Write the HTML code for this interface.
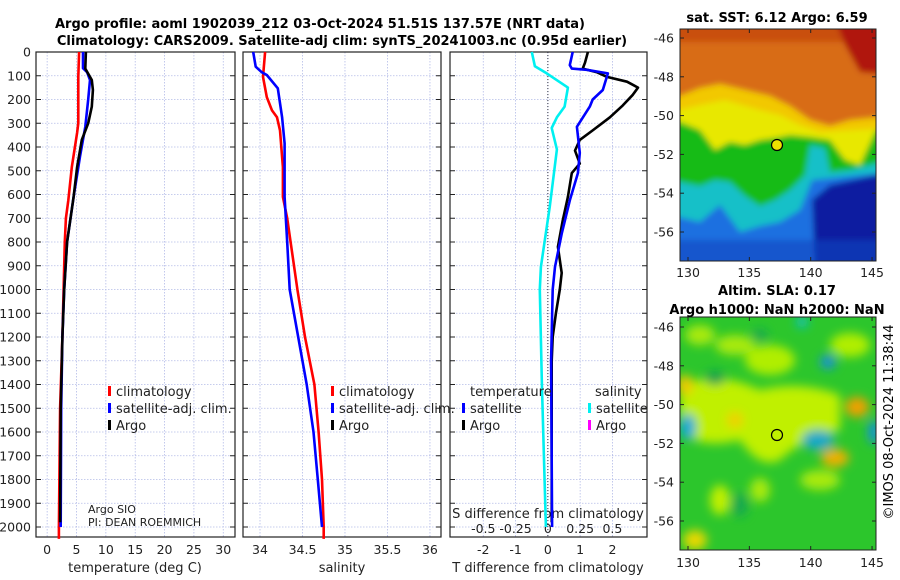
<!DOCTYPE html>
<html><head><meta charset="utf-8"><style>
body{margin:0;background:#fff;}
svg{display:block;font-family:"DejaVu Sans","Liberation Sans",sans-serif;}
</style></head><body>
<svg id="chart" width="900" height="580" viewBox="0 0 900 580" xmlns="http://www.w3.org/2000/svg">
<defs>
<filter id="bl" x="-20%" y="-20%" width="140%" height="140%"><feGaussianBlur stdDeviation="3"/></filter>
<filter id="bl2" x="-50%" y="-50%" width="200%" height="200%"><feGaussianBlur stdDeviation="5"/></filter>
<clipPath id="c1"><rect x="680" y="29" width="196" height="232"/></clipPath>
<clipPath id="c2"><rect x="680" y="317" width="196" height="233"/></clipPath>
</defs>
<text x="320" y="28" font-size="13" font-weight="bold" text-anchor="middle">Argo profile: aoml 1902039_212 03-Oct-2024 51.51S 137.57E (NRT data)</text>
<text x="342" y="45" font-size="13" font-weight="bold" text-anchor="middle">Climatology: CARS2009. Satellite-adj clim: synTS_20241003.nc (0.95d earlier)</text>

<g id="maps">
<g clip-path="url(#c1)">
<rect x="680" y="29" width="196" height="232" fill="#1a5fe0"/>
<g filter="url(#bl)">
<rect x="670" y="20" width="220" height="120" fill="#d86c12"/>
<rect x="670" y="20" width="220" height="22" fill="#c9500c"/>
<polygon points="835,20 890,20 890,75 860,72 845,45" fill="#b01808"/>
<polygon points="670,100 700,88 720,84 745,90 770,96 790,106 810,120 830,126 850,120 890,116 890,175 670,175" fill="#f2c800"/>
<polygon points="670,112 700,105 725,100 760,110 780,115 800,125 820,132 890,128 890,175 670,175" fill="#e8e800"/>
<polygon points="670,118 700,130 715,150 730,142 745,145 760,140 775,138 790,135 810,137 830,140 845,160 860,165 876,130 890,128 890,270 670,270" fill="#18bb18"/>
<polygon points="670,180 700,186 715,180 730,182 745,196 760,206 775,200 790,190 805,175 810,145 825,148 830,172 850,170 890,160 890,270 670,270" fill="#18c0c8"/>
<polygon points="670,215 700,222 720,205 740,232 760,226 780,222 800,210 812,180 830,178 890,172 890,270 670,270" fill="#1a70e0"/>
<polygon points="815,270 812,200 830,185 876,175 890,175 890,270" fill="#0a1ea0"/>
<rect x="670" y="240" width="220" height="30" fill="#1446c0" opacity="0.6"/>
</g>
</g>
<rect x="680" y="29" width="196" height="232" fill="none" stroke="#222" stroke-width="1"/>
<circle cx="777" cy="145" r="5.5" fill="#f0e000" stroke="#000" stroke-width="1.2"/>
<text x="777" y="22" font-size="13" font-weight="bold" text-anchor="middle">sat. SST: 6.12 Argo: 6.59</text>

<g clip-path="url(#c2)">
<rect x="680" y="317" width="196" height="233" fill="#2cc62c"/>
<g filter="url(#bl2)">
<path d="M680,385 Q720,370 760,390 Q800,380 840,395 L840,430 Q800,440 780,460 Q760,470 740,440 Q700,450 680,430 Z" fill="#c0f000"/>
<ellipse cx="770" cy="360" rx="25" ry="15" fill="#b0ee00"/>
<ellipse cx="735" cy="345" rx="20" ry="10" fill="#a8ea10"/>
<ellipse cx="850" cy="345" rx="20" ry="12" fill="#b0ee00"/>
<ellipse cx="700" cy="335" rx="15" ry="10" fill="#a8ea10"/>
<ellipse cx="820" cy="480" rx="20" ry="10" fill="#a8ea10"/>
<ellipse cx="720" cy="500" rx="10" ry="15" fill="#c0f000"/>
<ellipse cx="695" cy="540" rx="12" ry="10" fill="#e8d800"/>
<ellipse cx="760" cy="490" rx="10" ry="12" fill="#a8ea10"/>
<ellipse cx="857" cy="407" rx="12" ry="10" fill="#f0a000"/>
<ellipse cx="835" cy="458" rx="14" ry="9" fill="#f0b000"/>
<ellipse cx="685" cy="385" rx="8" ry="10" fill="#f0c800"/>
<ellipse cx="735" cy="420" rx="8" ry="8" fill="#f0d000"/>
<ellipse cx="688" cy="427" rx="8" ry="13" fill="#10a8d8"/>
<ellipse cx="818" cy="440" rx="16" ry="10" fill="#18a8c8"/>
<ellipse cx="828" cy="362" rx="8" ry="7" fill="#1890d8"/>
<ellipse cx="874" cy="432" rx="6" ry="12" fill="#1890d8"/>
<ellipse cx="802" cy="322" rx="6" ry="6" fill="#10c0c0"/>
<ellipse cx="715" cy="378" rx="10" ry="7" fill="#10a050"/>
<ellipse cx="740" cy="505" rx="8" ry="12" fill="#18a850"/>
<ellipse cx="760" cy="335" rx="8" ry="6" fill="#18a850"/>
</g>
</g>
<rect x="680" y="317" width="196" height="233" fill="none" stroke="#222" stroke-width="1"/>
<circle cx="777" cy="435" r="5.5" fill="none" stroke="#000" stroke-width="1.2"/>
<text x="777" y="295" font-size="13" font-weight="bold" text-anchor="middle">Altim. SLA: 0.17</text>
<text x="777" y="314" font-size="13" font-weight="bold" text-anchor="middle">Argo h1000: NaN h2000: NaN</text>
<text transform="translate(893,422) rotate(-90)" font-size="13" text-anchor="middle">©IMOS 08-Oct-2024 11:38:44</text>
</g>
<g id="plots"></g>
</svg>
<script>
// ---- data ----
const depthTicks = [0,100,200,300,400,500,600,700,800,900,1000,1100,1200,1300,1400,1500,1600,1700,1800,1900,2000];
const tempTicks = [0,5,10,15,20,25,30];
const salTicks = [34,34.5,35,35.5,36];
const salTickLabels = ["34","34.5","35","35.5","36"];
const tdiffTicks = [-2,-1,0,1,2];
const sdiffTicks = [-0.5,-0.25,0,0.25,0.5];
const sdiffTickLabels = ["-0.5","-0.25","0","0.25","0.5"];

const tClimDepth = [0,105,250,300,340,485,625,700,800,1000,1200,1500,2000,2050];
const tClimVal   = [5.45,5.3,5.3,5.3,5.1,4.2,3.6,3.2,3.0,2.8,2.6,2.2,2.0,2.0];
const tSatDepth  = [0,68,85,118,200,315,440,610,800,1000,1200,1500,2000];
const tSatVal    = [6.1,6.1,6.8,7.3,7.0,6.5,5.6,4.5,3.4,2.9,2.6,2.4,2.3];
const tArgoDepth = [0,70,118,160,230,300,370,485,610,800,1000,1200,1500,1980];
const tArgoVal   = [6.6,6.5,7.6,7.8,7.6,7.0,5.9,5.1,4.5,3.4,2.9,2.6,2.3,2.2];

const sClimDepth = [0,105,190,245,275,330,485,610,700,800,1000,1200,1400,1600,1800,2000,2050];
const sClimVal   = [34.06,34.035,34.08,34.14,34.2,34.235,34.27,34.27,34.32,34.36,34.44,34.53,34.64,34.69,34.73,34.75,34.75];
const sSatDepth  = [0,62,85,97,153,275,385,610,800,1000,1200,1400,1600,1800,2000];
const sSatVal    = [33.92,33.95,34.02,34.08,34.21,34.26,34.29,34.29,34.32,34.35,34.45,34.55,34.63,34.68,34.73];

const sDiffSatDepth = [0,60,90,150,230,275,320,410,650,790,905,1000,1400,2000];
const sDiffSatVal   = [-0.124,-0.10,-0.008,0.155,0.13,0.07,0.03,0.07,0.015,-0.023,-0.054,-0.062,-0.046,-0.015];
const tDiffSatDepth = [0,55,70,75,90,160,200,230,315,425,510,625,765,905,1000,1300,2000];
const tDiffSatVal   = [0.77,0.68,0.74,1.2,1.86,1.70,1.39,1.3,0.9,0.99,0.93,0.68,0.43,0.22,0.15,0.1,0.13];
const tDiffArgoDepth = [0,45,70,85,105,125,150,180,225,275,330,370,415,470,510,610,710,820,930,1000,1100,1200,1300,1980];
const tDiffArgoVal   = [1.24,1.15,1.08,1.52,1.83,2.45,2.79,2.63,2.32,1.92,1.39,0.99,0.84,0.99,0.74,0.62,0.46,0.31,0.43,0.37,0.25,0.15,0.12,0.12];

const mapLatTicks = [-46,-48,-50,-52,-54,-56];
const mapLonTicks = [130,135,140,145];

// ---- helpers ----
const NS="http://www.w3.org/2000/svg";
const root=document.getElementById('plots');
function mk(tag,attrs,parent){const e=document.createElementNS(NS,tag);for(const k in attrs)e.setAttribute(k,attrs[k]);(parent||root).appendChild(e);return e;}
const Y0=52, PXD=0.2375, TOP=52, BOT=537;
function yD(d){return Y0+d*PXD;}
const panels=[
 {name:'temperature',x0:36,x1:235,v0:-1.9,v1:32},
 {name:'salinity',x0:243,x1:441,v0:33.8,v1:36.13},
 {name:'difference',x0:450,x1:647,v0:-3.03,v1:3.07}
];
function xf(p){return v=>p.x0+(v-p.v0)/(p.v1-p.v0)*(p.x1-p.x0);}
const xT=xf(panels[0]), xS=xf(panels[1]), xTD=xf(panels[2]);
const xSD=v=>xTD(v*4);

panels.forEach((p,i)=>{
  const g=mk('g',{});
  
  
  const fx=xf(p);
  const ticks=i===0?tempTicks:i===1?salTicks:tdiffTicks;
  ticks.forEach(t=>{const l=mk('line',{x1:fx(t),x2:fx(t),y1:TOP,y2:BOT,stroke:'#b4bce8','stroke-width':0.8,'stroke-dasharray':'1.5,1.5'},g);
    
    });
  depthTicks.forEach(d=>{const l=mk('line',{x1:p.x0,x2:p.x1,y1:yD(d),y2:yD(d),stroke:'#b4bce8','stroke-width':0.8,'stroke-dasharray':'1.5,1.5'},g);
    
    
    mk('line',{x1:p.x0,x2:p.x0+5,y1:yD(d),y2:yD(d),stroke:'#222'},g);
    mk('line',{x1:p.x1-5,x2:p.x1,y1:yD(d),y2:yD(d),stroke:'#222'},g);
  });
  const fr=mk('rect',{x:p.x0,y:TOP,width:p.x1-p.x0,height:BOT-TOP,fill:'none',stroke:'#222','stroke-width':1.2},g);
  
  
});

// y tick labels
depthTicks.forEach(d=>{const t=mk('text',{x:31,y:yD(d)+4.5,'font-size':12.5,'text-anchor':'end',fill:'#222'});t.textContent=d;
  
  });
// x tick labels
tempTicks.forEach(v=>{const t=mk('text',{x:xT(v),y:554,'font-size':12.5,'text-anchor':'middle',fill:'#222'});t.textContent=v;
  
  });
salTicks.forEach((v,i)=>{const t=mk('text',{x:xS(v),y:554,'font-size':12.5,'text-anchor':'middle',fill:'#222'});t.textContent=salTickLabels[i];
  
  });
tdiffTicks.forEach(v=>{const t=mk('text',{x:xTD(v),y:554,'font-size':12.5,'text-anchor':'middle',fill:'#222'});t.textContent=v;
  
  });
sdiffTicks.forEach((v,i)=>{const t=mk('text',{x:xSD(v),y:533,'font-size':12.5,'text-anchor':'middle',fill:'#222'});t.textContent=sdiffTickLabels[i];
  
  });

function label(x,y,txt,name,anchor,size){const t=mk('text',{x:x,y:y,'font-size':size||13,'text-anchor':anchor||'middle',fill:'#222'});t.textContent=txt;
  
  return t;}
label(135,572,'temperature (deg C)','temperature-axis-title');
label(342,572,'salinity','salinity-axis-title');
label(548,572,'T difference from climatology','tdiff-axis-title');
label(548,518,'S difference from climatology','sdiff-axis-title');
label(88,513,'Argo SIO','argo-institution','start',11);
label(88,526,'PI: DEAN ROEMMICH','argo-pi','start',11);

// zero line in diff panel
const z=mk('line',{x1:xTD(0),x2:xTD(0),y1:TOP,y2:BOT,stroke:'#334',"stroke-width":1,'stroke-dasharray':'1,2'});



function series(depths,vals,fx,color,name,w){
  const pts=depths.map((d,i)=>fx(vals[i]).toFixed(1)+','+yD(d).toFixed(1)).join(' ');
  const pl=mk('polyline',{points:pts,fill:'none',stroke:color,'stroke-width':w||2.6,'stroke-linejoin':'round'});
  
  
}
series(tClimDepth,tClimVal,xT,'#ff0000','temperature-climatology-line');
series(tSatDepth,tSatVal,xT,'#0000ff','temperature-satellite-line');
series(tArgoDepth,tArgoVal,xT,'#000000','temperature-argo-line');
series(sClimDepth,sClimVal,xS,'#ff0000','salinity-climatology-line');
series(sSatDepth,sSatVal,xS,'#0000ff','salinity-satellite-line');
series(sDiffSatDepth,sDiffSatVal,xSD,'#00f0f0','salinity-diff-satellite-line');
series(tDiffArgoDepth,tDiffArgoVal,xTD,'#000000','temperature-diff-argo-line');
series(tDiffSatDepth,tDiffSatVal,xTD,'#0000ff','temperature-diff-satellite-line');

function legend(x,y,color,txt,name){
  const r=mk('rect',{x:x,y:y-10,width:3,height:10,fill:color});
  
  
  label(x+8,y,txt,name,'start',13);
}
legend(108,396,'#ff0000','climatology','legend-climatology');
legend(108,413,'#0000ff','satellite-adj. clim.','legend-satellite-adj');
legend(108,430,'#000000','Argo','legend-argo');
legend(331,396,'#ff0000','climatology','legend-sal-climatology');
legend(331,413,'#0000ff','satellite-adj. clim.','legend-sal-satellite-adj');
legend(331,430,'#000000','Argo','legend-sal-argo');
label(470,396,'temperature','legend-temperature-heading','start',13);
legend(462,413,'#0000ff','satellite','legend-tdiff-satellite');
legend(462,430,'#000000','Argo','legend-tdiff-argo');
label(595,396,'salinity','legend-salinity-heading','start',13);
legend(588,413,'#00f0f0','satellite','legend-sdiff-satellite');
legend(588,430,'#ff00ff','Argo','legend-sdiff-argo');

// map axes
const mapLonX=v=>688+(v-130)*12.27;
[{top:29,bot:261,lat0:38,lab:273},{top:317,bot:550,lat0:327,lab:563}].forEach((m,mi)=>{
  mapLatTicks.forEach(la=>{const y=m.lat0+(-46-la)*19.4;
    mk('line',{x1:680,x2:684,y1:y,y2:y,stroke:'#222'});mk('line',{x1:872,x2:876,y1:y,y2:y,stroke:'#222'});
    const t=label(674,y+4.5,String(la),'map-lat-tick-label','end',12.5);});
  mapLonTicks.forEach(lo=>{const x=mapLonX(lo);
    mk('line',{x1:x,x2:x,y1:m.top,y2:m.top+4,stroke:'#222'});mk('line',{x1:x,x2:x,y1:m.bot-4,y2:m.bot,stroke:'#222'});
    label(x,m.lab+4,String(lo),'map-lon-tick-label','middle',12.5);});
});
</script>
</body></html>
